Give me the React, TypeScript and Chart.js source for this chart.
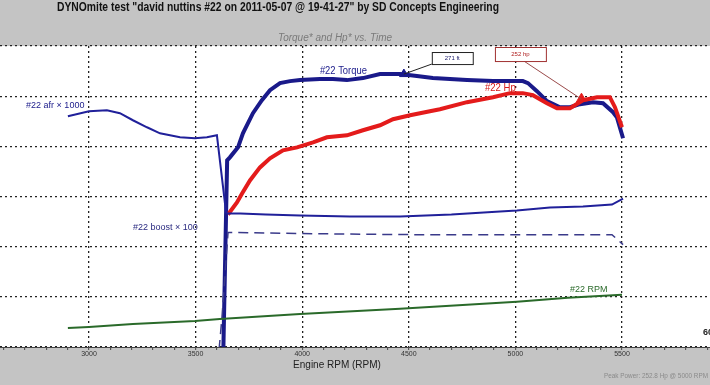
import { useEffect, useRef } from "react";
import { Chart, registerables } from "chart.js";

Chart.register(...registerables);

// ---- data (x = engine RPM, y = chart units) ----
const torqueRpm = [3630, 3648, 3661, 3699, 3722, 3769, 3811, 3849, 3896, 3943, 3990, 4083, 4144, 4210, 4285, 4365, 4459, 4538, 4613, 4773, 4895, 5035, 5059, 5101, 5148, 5209, 5256, 5303, 5364, 5411, 5458, 5476, 5505];
const torqueVal = [-5, 186, 189, 199, 213, 233, 246, 256, 263, 265, 266, 267, 267, 266, 268, 272, 272, 270, 268, 266, 265, 265, 263, 255, 245, 239, 239, 242, 244, 243, 234, 229, 208];

const hpRpm = [3652, 3694, 3718, 3755, 3802, 3849, 3910, 3976, 4051, 4116, 4210, 4285, 4365, 4426, 4506, 4599, 4646, 4773, 4895, 4974, 5035, 5082, 5148, 5195, 5256, 5317, 5383, 5443, 5467, 5500];
const hpVal = [132, 144, 153, 166, 179, 188, 196, 199, 204, 209, 211, 216, 221, 227, 231, 235, 237, 244, 249, 253, 253, 251, 243, 238, 238, 246, 249, 249, 239, 219];

const afrRpm = [2901, 3000, 3084, 3145, 3206, 3272, 3333, 3427, 3497, 3553, 3600, 3643, 3652, 3710, 3830, 3990, 4224, 4459, 4700, 4928, 5007, 5162, 5317, 5453, 5505];
const afrVal = [230, 235, 236, 233, 226, 219, 213, 209, 208, 209, 211, 134, 133, 133, 132, 131, 130, 130, 132, 135, 136, 139, 140, 142, 148];

const boostRpm = [3610, 3624, 3652, 3700, 4000, 4500, 5000, 5453, 5505];
const boostVal = [-3, 30, 114, 114, 113, 112, 112, 112, 102];

const rpmRpm = [2901, 3000, 3206, 3497, 3614, 3990, 4459, 5007, 5246, 5500];
const rpmVal = [19, 20, 23, 26, 28, 33, 38, 45, 49, 52];

const peakTorque = { rpm: 4477, val: 272, label: "271 ft" };
const peakHp = { rpm: 5310, val: 247, label: "252 hp" };

const majorTicks = [3000, 3500, 4000, 4500, 5000, 5500];

const TITLE = 'DYNOmite test "david nuttins #22 on 2011-05-07 @ 19-41-27" by SD Concepts Engineering';
const SUBTITLE = "Torque* and Hp* vs. Time";
const XTITLE = "Engine RPM (RPM)";
const FOOTER = "Peak Power: 252.8 Hp @ 5000 RPM";

const NARROW = "'Liberation Sans Narrow', 'Liberation Sans', Arial, sans-serif";
const SANS = "'Liberation Sans', Arial, sans-serif";

const pts = (xs: number[], ys: number[]) => xs.map((x, i) => ({ x, y: ys[i] }));

const dynoPlugin = {
  id: "dyno",
  beforeDraw(chart: any) {
    const { ctx, chartArea: a } = chart;
    ctx.save();
    ctx.fillStyle = "#c4c4c4";
    ctx.fillRect(0, 0, chart.width, chart.height);
    ctx.fillStyle = "#ffffff";
    ctx.fillRect(a.left, a.top, a.right - a.left, a.bottom - a.top);
    ctx.restore();
  },
  afterDraw(chart: any) {
    const { ctx } = chart;
    const xs = chart.scales.x;
    const ys = chart.scales.y;
    const X = (v: number) => xs.getPixelForValue(v);
    const Y = (v: number) => ys.getPixelForValue(v);
    ctx.save();
    ctx.textBaseline = "middle";

    // title
    ctx.fillStyle = "#111";
    ctx.font = `bold 12px ${NARROW}`;
    ctx.textAlign = "left";
    ctx.fillText(TITLE, 57, 8, 442);

    // subtitle
    ctx.fillStyle = "#7a7a7a";
    ctx.font = `italic 10px ${SANS}`;
    ctx.textAlign = "center";
    ctx.fillText(SUBTITLE, 335, 38, 127);

    // axis title
    ctx.fillStyle = "#222";
    ctx.font = `10px ${SANS}`;
    ctx.fillText(XTITLE, 337, 365, 90);

    // footer
    ctx.fillStyle = "#8a8a8a";
    ctx.font = `7px ${SANS}`;
    ctx.textAlign = "right";
    ctx.fillText(FOOTER, 708, 376, 104);

    // right edge label
    ctx.fillStyle = "#222";
    ctx.font = `bold 9px ${SANS}`;
    ctx.textAlign = "left";
    ctx.fillText("6000", 703, 333);

    // series labels
    ctx.font = `10px ${SANS}`;
    ctx.fillStyle = "#1a1a8a";
    ctx.fillText("#22 Torque", X(4083), Y(275), 47);
    ctx.fillStyle = "#d41a1a";
    ctx.font = `11px ${SANS}`;
    ctx.fillText("#22 Hp", X(4857), Y(258), 31);
    ctx.font = `9px ${SANS}`;
    ctx.fillStyle = "#1a1a8a";
    ctx.fillText("#22 afr \u00d7 1000", X(2705), Y(241), 62);
    ctx.fillStyle = "#2a2a80";
    ctx.fillText("#22 boost \u00d7 100", X(3206), Y(119), 68);
    ctx.fillStyle = "#2a6a2a";
    ctx.fillText("#22 RPM", X(5256), Y(57), 38);

    // annotation boxes and leaders
    const tx = X(peakTorque.rpm), ty = Y(peakTorque.val);
    const b1 = { l: X(4608), t: Y(294), r: X(4800), b: Y(282) };
    ctx.strokeStyle = "#222";
    ctx.lineWidth = 1;
    ctx.beginPath();
    ctx.moveTo(b1.l, b1.b);
    ctx.lineTo(tx, ty);
    ctx.stroke();
    ctx.fillStyle = "#fff";
    ctx.fillRect(b1.l, b1.t, b1.r - b1.l, b1.b - b1.t);
    ctx.strokeRect(b1.l + 0.5, b1.t + 0.5, b1.r - b1.l, b1.b - b1.t);
    ctx.fillStyle = "#1a1a6a";
    ctx.font = `6px ${SANS}`;
    ctx.textAlign = "center";
    ctx.fillText(peakTorque.label, (b1.l + b1.r) / 2, (b1.t + b1.b) / 2);

    const hx = X(peakHp.rpm), hy = Y(peakHp.val);
    const b2 = { l: X(4904), t: Y(299), r: X(5143), b: Y(285) };
    ctx.strokeStyle = "#9a4a4a";
    ctx.beginPath();
    ctx.moveTo(X(5040), b2.b);
    ctx.lineTo(hx, hy);
    ctx.stroke();
    ctx.fillStyle = "#fff";
    ctx.fillRect(b2.l, b2.t, b2.r - b2.l, b2.b - b2.t);
    ctx.strokeStyle = "#a03030";
    ctx.strokeRect(b2.l + 0.5, b2.t + 0.5, b2.r - b2.l, b2.b - b2.t);
    ctx.fillStyle = "#b02020";
    ctx.fillText(peakHp.label, (b2.l + b2.r) / 2, (b2.t + b2.b) / 2);

    ctx.restore();
  },
};

export default function App() {
  const ref = useRef<HTMLCanvasElement | null>(null);

  useEffect(() => {
    if (!ref.current) return;
    const chart = new Chart(ref.current, {
      type: "line",
      data: {
        datasets: [
          {
            label: "#22 RPM",
            data: pts(rpmRpm, rpmVal),
            borderColor: "#2a6a2a",
            borderWidth: 2,
            pointRadius: 0,
          },
          {
            label: "#22 boost x 100",
            data: pts(boostRpm, boostVal),
            borderColor: "#3a3a8a",
            borderWidth: 1.5,
            borderDash: [10, 6],
            pointRadius: 0,
          },
          {
            label: "#22 afr x 1000",
            data: pts(afrRpm, afrVal),
            borderColor: "#20209a",
            borderWidth: 2,
            pointRadius: 0,
          },
          {
            label: "#22 Hp",
            data: pts(hpRpm, hpVal),
            borderColor: "#e41b1b",
            borderWidth: 4,
            pointRadius: 0,
          },
          {
            label: "#22 Torque",
            data: pts(torqueRpm, torqueVal),
            borderColor: "#1a1a8a",
            borderWidth: 4,
            pointRadius: 0,
          },
          {
            label: "peak torque",
            data: [{ x: peakTorque.rpm, y: peakTorque.val }],
            showLine: false,
            pointStyle: "triangle",
            pointRadius: 5,
            backgroundColor: "#1a1a8a",
            borderColor: "#1a1a8a",
          },
          {
            label: "peak hp",
            data: [{ x: peakHp.rpm, y: peakHp.val }],
            showLine: false,
            pointStyle: "triangle",
            pointRadius: 6,
            backgroundColor: "#e41b1b",
            borderColor: "#e41b1b",
          },
        ],
      },
      options: {
        responsive: false,
        animation: false,
        layout: { autoPadding: false, padding: { top: 46, left: 0, right: 0, bottom: 0 } },
        plugins: { legend: { display: false }, tooltip: { enabled: false }, title: { display: false } },
        elements: { line: { tension: 0 } },
        scales: {
          x: {
            type: "linear",
            min: 2582.6,
            max: 5912.8,
            afterBuildTicks: (scale: any) => {
              const t: any[] = [];
              for (let v = 2600; v <= 5900; v += 100) t.push({ value: v });
              scale.ticks = t;
            },
            afterFit: (scale: any) => {
              scale.height = 38;
              scale.paddingLeft = 0;
              scale.paddingRight = 0;
            },
            ticks: {
              autoSkip: false,
              maxRotation: 0,
              padding: 0,
              color: "#333",
              font: { size: 7, family: NARROW },
              callback: (v: any) => (majorTicks.includes(Number(v)) ? String(v) : ""),
            },
            grid: {
              color: (c: any) => (c.tick && majorTicks.includes(c.tick.value) ? "#222" : "rgba(0,0,0,0)"),
              lineWidth: 1.3,
              tickColor: "#444",
              tickLength: 3,
              tickWidth: 1,
            },
            border: { display: true, color: "#444", width: 1, dash: [2, 3] },
          },
          y: {
            type: "linear",
            min: 0,
            max: 300,
            afterFit: (scale: any) => {
              scale.width = 0;
              scale.paddingTop = 0;
              scale.paddingBottom = 0;
            },
            ticks: { display: false, stepSize: 50 },
            grid: { color: "#222", lineWidth: 1.3, drawTicks: false },
            border: { display: false, dash: [2, 3] },
          },
        },
      },
      plugins: [dynoPlugin],
    } as any);
    return () => chart.destroy();
  }, []);

  return (
    <div style={{ position: "absolute", left: 0, top: 0, width: 710, height: 385 }}>
      <canvas ref={ref} width={710} height={385} style={{ display: "block", width: 710, height: 385 }} />
    </div>
  );
}
